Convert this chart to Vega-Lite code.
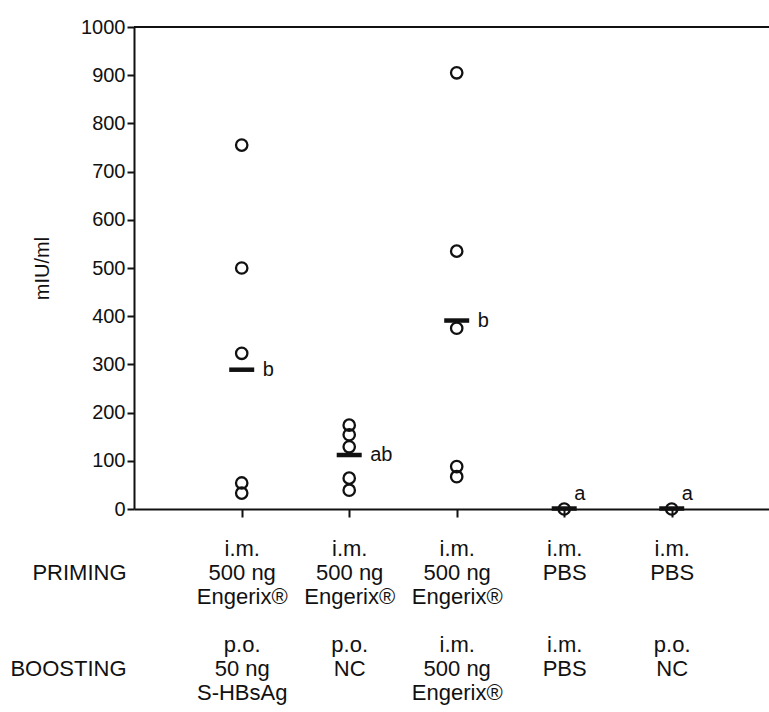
{
  "$schema": "https://vega.github.io/schema/vega-lite/v6.json",
  "width": 635,
  "height": 482,
  "autosize": {"type": "none"},
  "padding": {"left": 134, "top": 27, "right": 0, "bottom": 203},
  "background": "white",
  "config": {
    "view": {"stroke": null},
    "font": "Liberation Sans",
    "axis": {"domainColor": "#111111", "tickColor": "#111111", "labelColor": "#111111", "titleColor": "#111111", "domainWidth": 2, "tickWidth": 2, "grid": false, "titleFontWeight": "normal"}
  },
  "datasets": {
    "points": [
      {"group": "i.m.|500 ng|Engerix®|\u2800|p.o.|50 ng|S-HBsAg", "value": 755},
      {"group": "i.m.|500 ng|Engerix®|\u2800|p.o.|50 ng|S-HBsAg", "value": 500},
      {"group": "i.m.|500 ng|Engerix®|\u2800|p.o.|50 ng|S-HBsAg", "value": 323},
      {"group": "i.m.|500 ng|Engerix®|\u2800|p.o.|50 ng|S-HBsAg", "value": 54},
      {"group": "i.m.|500 ng|Engerix®|\u2800|p.o.|50 ng|S-HBsAg", "value": 33},
      {"group": "i.m.|500 ng|Engerix®|\u2800|p.o.|NC", "value": 174},
      {"group": "i.m.|500 ng|Engerix®|\u2800|p.o.|NC", "value": 154},
      {"group": "i.m.|500 ng|Engerix®|\u2800|p.o.|NC", "value": 129},
      {"group": "i.m.|500 ng|Engerix®|\u2800|p.o.|NC", "value": 64},
      {"group": "i.m.|500 ng|Engerix®|\u2800|p.o.|NC", "value": 39},
      {"group": "i.m.|500 ng|Engerix®|\u2800|i.m.|500 ng|Engerix®", "value": 905},
      {"group": "i.m.|500 ng|Engerix®|\u2800|i.m.|500 ng|Engerix®", "value": 535},
      {"group": "i.m.|500 ng|Engerix®|\u2800|i.m.|500 ng|Engerix®", "value": 375},
      {"group": "i.m.|500 ng|Engerix®|\u2800|i.m.|500 ng|Engerix®", "value": 88},
      {"group": "i.m.|500 ng|Engerix®|\u2800|i.m.|500 ng|Engerix®", "value": 67},
      {"group": "i.m.|PBS|\u2800|\u2800|i.m.|PBS", "value": 0},
      {"group": "i.m.|PBS|\u2800|\u2800|p.o.|NC", "value": 0}
    ],
    "means": [
      {"group": "i.m.|500 ng|Engerix®|\u2800|p.o.|50 ng|S-HBsAg", "mean": 289, "letter": "b"},
      {"group": "i.m.|500 ng|Engerix®|\u2800|p.o.|NC", "mean": 112, "letter": "ab"},
      {"group": "i.m.|500 ng|Engerix®|\u2800|i.m.|500 ng|Engerix®", "mean": 391, "letter": "b"},
      {"group": "i.m.|PBS|\u2800|\u2800|i.m.|PBS", "mean": 1, "letter": "a"},
      {"group": "i.m.|PBS|\u2800|\u2800|p.o.|NC", "mean": 1, "letter": "a"}
    ]
  },
  "layer": [
    {
      "data": {"name": "means"},
      "mark": {"type": "rule", "color": "#111111", "strokeWidth": 2},
      "encoding": {"y": {"datum": 1000, "type": "quantitative", "scale": {"domain": [0, 1000], "nice": false}}}
    },
    {
      "data": {"name": "points"},
      "mark": {"type": "point", "shape": "circle", "filled": false, "color": "#111111", "strokeWidth": 2.3, "size": 130, "opacity": 1},
      "encoding": {
        "x": {
          "field": "group",
          "type": "ordinal",
          "sort": null,
          "scale": {"type": "point", "padding": 0.9535, "align": 0.5254},
          "axis": {
            "labelExpr": "split(datum.label, '|')",
            "labelFontSize": 22,
            "labelLineHeight": 24,
            "labelPadding": 21,
            "tickSize": 8,
            "labelOverlap": false,
            "labelBound": false,
            "labelAngle": 0,
            "title": ["\u2800", "PRIMING", "\u2800", "\u2800", "\u2800", "BOOSTING"],
            "titleFontSize": 22,
            "titleLineHeight": 24,
            "titleAlign": "right",
            "titleBaseline": "top",
            "titleX": -8,
            "titleY": 29,
            "titleAnchor": "start"
          }
        },
        "y": {
          "field": "value",
          "type": "quantitative",
          "scale": {"domain": [0, 1000], "nice": false},
          "axis": {
            "values": [0, 100, 200, 300, 400, 500, 600, 700, 800, 900, 1000],
            "format": "d",
            "labelFontSize": 20,
            "tickSize": 7,
            "labelPadding": 2,
            "title": "mIU/ml",
            "titleFontSize": 20,
            "titlePadding": 28
          }
        }
      }
    },
    {
      "data": {"name": "means"},
      "mark": {"type": "tick", "color": "#111111", "size": 25, "thickness": 4.5, "opacity": 1},
      "encoding": {
        "x": {"field": "group", "type": "ordinal", "sort": null},
        "y": {"field": "mean", "type": "quantitative"}
      }
    },
    {
      "data": {"name": "means"},
      "transform": [{"filter": "datum.mean > 10"}],
      "mark": {"type": "text", "align": "left", "baseline": "middle", "dx": 21, "fontSize": 20, "color": "#111111"},
      "encoding": {
        "x": {"field": "group", "type": "ordinal", "sort": null},
        "y": {"field": "mean", "type": "quantitative"},
        "text": {"field": "letter"}
      }
    },
    {
      "data": {"name": "means"},
      "transform": [{"filter": "datum.mean <= 10"}],
      "mark": {"type": "text", "align": "left", "baseline": "middle", "dx": 10, "dy": -15, "fontSize": 20, "color": "#111111"},
      "encoding": {
        "x": {"field": "group", "type": "ordinal", "sort": null},
        "y": {"field": "mean", "type": "quantitative"},
        "text": {"field": "letter"}
      }
    }
  ]
}
